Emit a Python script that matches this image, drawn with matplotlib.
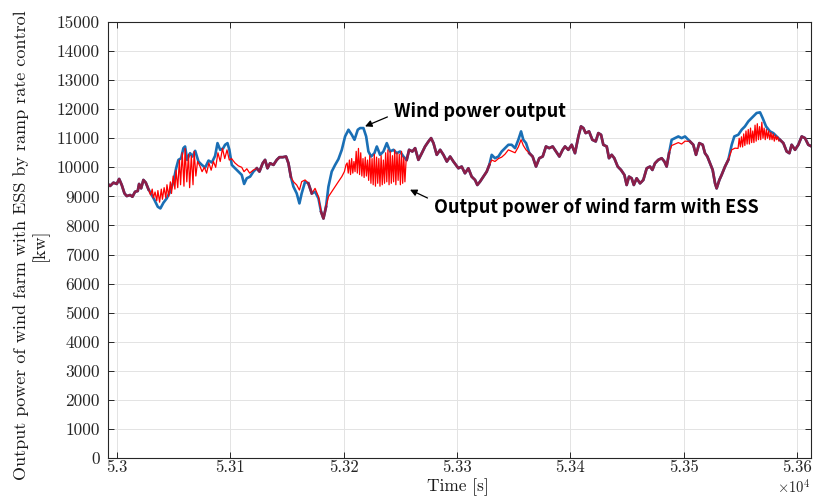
import numpy as np
import matplotlib
matplotlib.use('Agg')
from matplotlib import pyplot as plt

plt.rcParams['mathtext.fontset'] = 'cm'
plt.rcParams['font.family'] = ['cmr10', 'DejaVu Serif']

# wind power output [kW] vs time [s]
t_wind = [52991.9, 52993.8, 52996.8, 52999.7, 53001.8, 53004.1, 53006.5, 53008.5, 53011.5, 53013.5,
          53015.9, 53018.2, 53019.4, 53021.2, 53023.2, 53025.3, 53027.7, 53030.6, 53033.0, 53035.9,
          53038.2, 53040.9, 53043.8, 53046.8, 53049.7, 53052.1, 53054.1, 53056.5, 53058.5, 53060.0,
          53061.8, 53064.4, 53066.5, 53068.9, 53071.8, 53074.8, 53077.7, 53080.7, 53083.6, 53086.5,
          53088.6, 53091.0, 53093.5, 53095.3, 53097.4, 53099.1, 53101.2, 53104.1, 53107.1, 53110.0,
          53112.1, 53114.4, 53117.4, 53120.3, 53123.3, 53125.6, 53128.5, 53130.6, 53132.7, 53135.0,
          53138.0, 53140.9, 53143.3, 53146.2, 53149.1, 53151.2, 53153.3, 53155.6, 53158.5, 53160.9,
          53162.9, 53165.9, 53168.8, 53171.8, 53174.7, 53177.7, 53180.0, 53182.1, 53184.4, 53186.5,
          53189.4, 53192.4, 53195.3, 53198.3, 53201.2, 53204.2, 53207.1, 53209.5, 53212.4, 53214.5,
          53217.4, 53219.8, 53221.8, 53224.2, 53227.1, 53229.2, 53232.1, 53235.0, 53238.0, 53240.9,
          53243.9, 53246.8, 53249.7, 53252.7, 53255.6, 53257.7, 53260.6, 53263.0, 53265.9, 53268.9,
          53271.8, 53274.8, 53277.1, 53279.2, 53282.1, 53285.1, 53288.0, 53291.0, 53293.9, 53296.8,
          53301.2, 53304.1, 53307.0, 53310.0, 53312.9, 53315.9, 53317.9, 53320.3, 53323.2, 53326.2,
          53328.5, 53330.6, 53333.5, 53336.5, 53339.4, 53342.3, 53345.3, 53348.2, 53351.2, 53354.1,
          53356.5, 53358.5, 53360.9, 53363.8, 53366.7, 53369.7, 53372.6, 53375.6, 53378.5, 53381.4,
          53384.4, 53387.3, 53390.3, 53393.2, 53395.3, 53398.2, 53401.2, 53404.1, 53407.1, 53409.4,
          53411.5, 53413.5, 53416.5, 53419.4, 53422.4, 53424.7, 53427.1, 53429.1, 53432.1, 53434.1,
          53436.5, 53438.8, 53441.8, 53444.7, 53447.7, 53449.7, 53451.8, 53454.1, 53456.0, 53458.5,
          53461.5, 53464.4, 53467.4, 53470.3, 53472.4, 53474.7, 53477.6, 53480.6, 53483.0, 53485.0,
          53487.1, 53489.4, 53492.4, 53495.3, 53498.2, 53501.2, 53505.6, 53508.5, 53510.9, 53513.8,
          53516.8, 53518.8, 53520.9, 53523.2, 53525.6, 53527.7, 53529.1, 53531.5, 53533.5, 53536.5,
          53539.4, 53542.4, 53544.7, 53548.2, 53551.2, 53554.1, 53557.1, 53560.0, 53564.4, 53567.4,
          53569.7, 53572.7, 53576.2, 53579.1, 53582.1, 53585.0, 53588.0, 53590.9, 53593.3, 53595.3,
          53598.3, 53601.2, 53604.2, 53607.1, 53610.0, 53613.0]
p_wind = [9427, 9358, 9472, 9427, 9600, 9392, 9103, 9011, 9046, 8988,
          9161, 9184, 9427, 9276, 9565, 9472, 9241, 9046, 8873, 8643,
          8585, 8781, 8931, 9161, 9507, 9967, 10256, 10313, 10659, 10717,
          10256, 10486, 10371, 10567, 10198, 10083, 9991, 10233, 10164, 10394,
          10832, 10600, 10650, 10775, 10832, 10602, 10083, 9967, 9853, 9738,
          9427, 9622, 9680, 9853, 9967, 9853, 10141, 10256, 9967, 10141,
          10083, 10256, 10348, 10348, 10371, 10141, 9680, 9335, 9103, 8758,
          9103, 9507, 9449, 9103, 9161, 8931, 8470, 8239, 8643, 9334,
          9853, 10083, 10280, 10602, 11062, 11293, 11120, 10947, 11293, 11350,
          11350, 11062, 10544, 10371, 10486, 10717, 10429, 10544, 10832, 10544,
          10602, 10486, 10544, 10371, 10256, 10602, 10544, 10659, 10256, 10486,
          10717, 10890, 11004, 10832, 10429, 10602, 10429, 10198, 10370, 10198,
          9967, 10026, 9795, 9967, 9680, 9565, 9392, 9507, 9680, 9853,
          10083, 10429, 10313, 10371, 10544, 10659, 10775, 10775, 10659, 10947,
          11235, 10947, 10832, 10486, 10371, 10026, 10313, 10371, 10717, 10659,
          10717, 10544, 10371, 10602, 10717, 10602, 10775, 10486, 11062, 11408,
          11350, 11177, 11235, 10947, 10890, 11177, 11120, 10775, 10717, 10313,
          10429, 10313, 10026, 9910, 9738, 9392, 9680, 9622, 9392, 9622,
          9449, 9565, 9967, 10026, 9910, 10141, 10256, 10313, 10198, 10026,
          10486, 10947, 11004, 11062, 11004, 11062, 10890, 10775, 10429, 10832,
          10775, 10486, 10371, 10141, 9910, 9449, 9276, 9565, 9738, 10026,
          10256, 10775, 11062, 11120, 11293, 11408, 11581, 11695, 11868, 11891,
          11695, 11408, 11235, 11177, 11062, 10947, 10832, 10544, 10486, 10775,
          10602, 10775, 11062, 11004, 10775, 10717]

# stretches where the ESS-smoothed output departs from the raw wind power
ess_seg1_t = [53027.7, 53029.5, 53031.0, 53032.0, 53033.5, 53035.0, 53036.0, 53037.5, 53039.0, 53040.0,
              53041.5, 53043.0, 53044.0, 53045.5, 53047.0, 53048.0, 53049.5, 53051.0, 53052.0, 53053.5,
              53055.0, 53056.0, 53057.5, 53059.0, 53060.0, 53061.5, 53063.0, 53064.0, 53065.5, 53067.0,
              53068.0, 53069.5, 53071.0, 53073.0, 53075.0, 53077.0, 53079.0, 53081.0, 53083.0, 53085.0,
              53087.0, 53089.0, 53091.0, 53093.0, 53095.0, 53097.0, 53099.0, 53101.0, 53104.0, 53107.0,
              53110.0, 53112.0, 53114.5, 53117.0, 53120.0, 53123.3]
ess_seg1_p = [9241, 9050, 9250, 8950, 9150, 8850, 9200, 8800, 9250, 8900,
              9300, 8950, 9400, 9000, 9500, 9100, 9700, 9250, 9900, 9300,
              10250, 9400, 10500, 9350, 10650, 9500, 10450, 9300, 10400, 9400,
              10550, 9700, 10200, 10050, 9850, 10000, 9800, 10150, 9900, 10200,
              10000, 10500, 10200, 10650, 10300, 10600, 10250, 10300, 10150, 10050,
              10000, 9850, 9950, 9800, 9900, 9967]

ess_seg2_t = [53153.3, 53155.6, 53158.5, 53160.9, 53162.9, 53165.9, 53168.8, 53171.8, 53174.7, 53177.7,
              53180.0, 53182.1, 53184.4, 53186.5, 53189.4, 53192.4, 53195.3, 53198.3, 53200.6, 53202.0,
              53203.0, 53204.0, 53205.0, 53206.0, 53207.0, 53208.0, 53209.0, 53210.0, 53211.0, 53212.0,
              53213.0, 53214.0, 53215.0, 53216.0, 53217.0, 53218.0, 53219.0, 53220.0, 53221.0, 53222.0,
              53223.0, 53224.0, 53225.0, 53226.0, 53227.0, 53228.0, 53229.0, 53230.0, 53231.0, 53232.0,
              53233.0, 53234.0, 53235.0, 53236.0, 53237.0, 53238.0, 53239.0, 53240.0, 53241.0, 53242.0,
              53243.0, 53244.0, 53245.0, 53246.0, 53247.0, 53248.0, 53249.0, 53250.0, 53251.0, 53252.0,
              53253.0, 53254.0, 53255.0, 53255.6]
ess_seg2_p = [9680, 9507, 9392, 9218, 9507, 9565, 9449, 9103, 9276, 8988,
              8470, 8239, 8643, 8988, 9161, 9334, 9507, 9680, 9853, 10083,
              10150, 9800, 10250, 9750, 10300, 9800, 10200, 9850, 10550, 9800,
              10650, 9750, 10500, 9700, 10300, 9650, 10350, 9700, 10250, 9550,
              10400, 9450, 10300, 9400, 10450, 9350, 10350, 9450, 10300, 9350,
              10400, 9400, 10250, 9450, 10500, 9500, 10600, 9400, 10550, 9450,
              10400, 9500, 10600, 9400, 10500, 9550, 10450, 9400, 10550, 9450,
              10350, 9500, 10200, 10256]

ess_seg3_t = [53328.5, 53330.6, 53333.5, 53336.5, 53339.4, 53342.3, 53345.3, 53348.2, 53351.2, 53354.1,
              53356.5, 53358.5, 53360.9, 53363.8]
ess_seg3_p = [10083, 10250, 10200, 10300, 10350, 10450, 10600, 10550, 10500, 10700,
              10950, 10750, 10600, 10486]

ess_seg4_t = [53487.1, 53489.4, 53492.4, 53495.3, 53498.2, 53501.2, 53505.6]
ess_seg4_p = [10486, 10750, 10800, 10850, 10800, 10900, 10890]

ess_seg5_t = [53539.4, 53542.4, 53545.3, 53548.0, 53549.0, 53550.0, 53551.0, 53552.0, 53553.0, 53554.0,
              53555.0, 53556.0, 53557.0, 53558.0, 53559.0, 53560.0, 53561.0, 53562.0, 53563.0, 53564.0,
              53565.0, 53566.0, 53567.0, 53568.0, 53569.0, 53570.0, 53571.0, 53572.0, 53573.0, 53574.0,
              53575.0, 53576.0, 53577.0, 53578.0, 53579.0, 53580.0, 53581.0, 53582.0, 53583.0, 53584.0,
              53585.0]
ess_seg5_p = [10256, 10602, 10659, 10650, 11000, 10700, 11050, 10700, 11150, 10750,
              11250, 10800, 11300, 10800, 11350, 10850, 11250, 10850, 11450, 10900,
              11500, 10950, 11400, 10950, 11550, 11000, 11350, 10950, 11300, 11000,
              11250, 10950, 11200, 10950, 11150, 10900, 11100, 10950, 11050, 10900,
              10947]

xtick_vals = [53000, 53100, 53200, 53300, 53400, 53500, 53600]
xtick_labels = ['5.3', '5.31', '5.32', '5.33', '5.34', '5.35', '5.36']
ytick_vals = list(range(0, 15001, 1000))

# assemble the ESS output: wind power everywhere except the listed stretches
t_wind = np.array(t_wind)
p_wind = np.array(p_wind, dtype=float)
segs = [(ess_seg1_t, ess_seg1_p), (ess_seg2_t, ess_seg2_p), (ess_seg3_t, ess_seg3_p),
        (ess_seg4_t, ess_seg4_p), (ess_seg5_t, ess_seg5_p)]
keep = np.ones(len(t_wind), bool)
for st, sp in segs:
    keep &= ~((t_wind >= min(st)) & (t_wind <= max(st)))
t_ess = np.concatenate([t_wind[keep]] + [np.array(st) for st, sp in segs])
p_ess = np.concatenate([p_wind[keep]] + [np.array(sp, dtype=float) for st, sp in segs])
order = np.argsort(t_ess)
t_ess, p_ess = t_ess[order], p_ess[order]

# where both curves coincide they render as one dark line
same = np.abs(p_ess - np.interp(t_ess, t_wind, p_wind)) < 1
p_both = np.where(same, p_ess, np.nan)

fig = plt.figure(figsize=(8.16, 4.97), dpi=100)
ax = fig.add_axes([0.1324, 0.0785, 0.8615, 0.8773])

ax.plot(t_wind, p_wind, color='#1a6fb5', lw=1.9, solid_joinstyle='round')
ax.plot(t_ess, p_ess, color='#ff0000', lw=0.9)
ax.plot(t_ess, p_both, color='#8c1e48', lw=1.9, solid_joinstyle='round')

ax.set_xlim(52992, 53612.4)
ax.set_ylim(0, 15000)
ax.set_xticks(xtick_vals)
ax.set_xticklabels(xtick_labels)
ax.set_yticks(ytick_vals)
ax.set_yticklabels([str(v) for v in ytick_vals])
ax.tick_params(direction='in', length=4, width=0.7, top=True, right=True,
               labelsize=12.5, colors='#262626')
ax.tick_params(axis='y', pad=6)
ax.tick_params(axis='x', pad=1.5, labelsize=12)
ax.grid(True, color='#e3e3e3', lw=0.7)
ax.set_axisbelow(True)
for s in ax.spines.values():
    s.set_color('#262626')
    s.set_linewidth(0.8)

fig.text(0.038, 0.507, 'Output power of wind farm with ESS by ramp rate control\n[kw]',
         rotation=90, ha='center', va='center', fontsize=13, linespacing=1.15, color='#1a1a1a')
fig.text(0.561, 0.002, 'Time [s]', ha='center', va='bottom', fontsize=12.5, color='#1a1a1a')
fig.text(0.993, 0.002, r'$\times10^{4}$', ha='right', va='bottom', fontsize=10.5, color='#262626')

anno_font = dict(family=['Noto Sans CJK KR', 'DejaVu Sans'], fontsize=13, weight='bold')
ax.annotate('Wind power output', xy=(53218.8, 11408), xytext=(53244.4, 11927),
            ha='left', va='center', **anno_font,
            arrowprops=dict(arrowstyle='-|>', color='black', lw=0.9, mutation_scale=10,
                            relpos=(0, 0.35), shrinkA=3, shrinkB=0))
ax.annotate('Output power of wind farm with ESS', xy=(53258.5, 9230), xytext=(53279.7, 8608),
            ha='left', va='center', **anno_font,
            arrowprops=dict(arrowstyle='-|>', color='black', lw=0.9, mutation_scale=10,
                            relpos=(0, 0.85), shrinkA=3, shrinkB=0))

plt.savefig('out.png')
